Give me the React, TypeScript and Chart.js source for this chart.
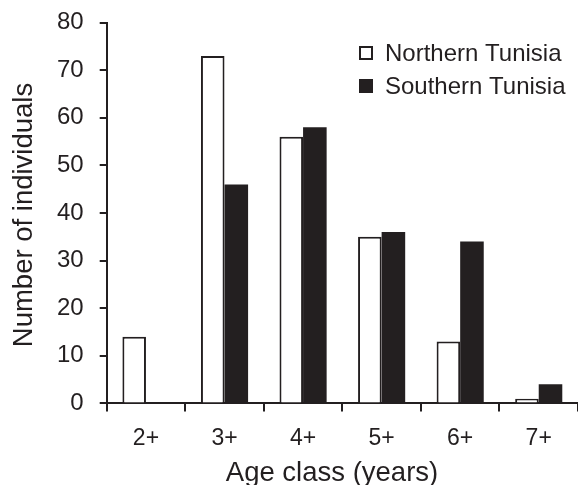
import React, { useEffect, useRef } from "react";
import { Chart, registerables } from "chart.js";

Chart.register(...registerables);

const categories = ["2+", "3+", "4+", "5+", "6+", "7+"];
const northern = [14, 73, 56, 35, 13, 1];
const southern = [0, 46, 58, 36, 34, 4];
const seriesLabels = ["Northern Tunisia", "Southern Tunisia"];
const yTitle = "Number of individuals";
const xTitle = "Age class (years)";

const INK = "#231f20";
const FONT = "'Liberation Sans', Arial, sans-serif";

const decorPlugin = {
  id: "decor",
  afterDraw(chart: any) {
    const ctx = chart.ctx;
    const x0 = 359;
    const ys = [53, 86];
    ctx.save();
    // legend
    ctx.font = `24px ${FONT}`;
    ctx.textBaseline = "middle";
    ctx.textAlign = "left";
    chart.data.datasets.forEach((ds: any, i: number) => {
      const y = ys[i];
      ctx.fillStyle = ds.backgroundColor;
      ctx.fillRect(x0, y - 7, 14, 14);
      ctx.strokeStyle = INK;
      ctx.lineWidth = 2;
      ctx.strokeRect(x0 + 1, y - 6, 12, 12);
      ctx.fillStyle = INK;
      ctx.fillText(ds.label, x0 + 26, y + 1);
    });
    // axis titles
    ctx.font = `27.5px ${FONT}`;
    ctx.textBaseline = "alphabetic";
    ctx.textAlign = "center";
    ctx.fillStyle = INK;
    ctx.fillText(xTitle, 332, 481);
    ctx.translate(32, 215);
    ctx.rotate(-Math.PI / 2);
    ctx.fillText(yTitle, 0, 0);
    ctx.restore();
  },
};

export default function App() {
  const ref = useRef<HTMLCanvasElement>(null);
  useEffect(() => {
    document.body.style.margin = "0";
    const chart = new Chart(ref.current!, {
      type: "bar",
      data: {
        labels: categories,
        datasets: [
          {
            label: seriesLabels[0],
            data: northern,
            backgroundColor: "#ffffff",
            borderColor: INK,
            borderWidth: 2,
            borderSkipped: "bottom",
          },
          {
            label: seriesLabels[1],
            data: southern,
            backgroundColor: INK,
            borderColor: INK,
            borderWidth: 0,
          },
        ],
      },
      options: {
        animation: false,
        responsive: false,
        layout: { padding: { top: 4, right: 0, left: 41, bottom: 20 } },
        plugins: { legend: { display: false }, tooltip: { enabled: false } },
        datasets: { bar: { categoryPercentage: 0.6, barPercentage: 1 } },
        scales: {
          x: {
            grid: {
              offset: true,
              drawOnChartArea: false,
              drawTicks: true,
              tickLength: 8,
              color: INK,
              lineWidth: 2,
            },
            border: { color: INK, width: 2 },
            ticks: { color: INK, font: { family: FONT, size: 23 }, padding: 13 },
          },
          y: {
            min: 0,
            max: 80,
            ticks: {
              stepSize: 10,
              color: INK,
              font: { family: FONT, size: 24, lineHeight: 0.55 },
              padding: 16,
            },
            grid: {
              drawOnChartArea: false,
              drawTicks: true,
              tickLength: 7,
              color: INK,
              lineWidth: 2,
            },
            border: { color: INK, width: 2 },
          },
        },
      },
      plugins: [decorPlugin],
    });
    return () => chart.destroy();
  }, []);
  return <canvas ref={ref} width={578} height={485} style={{ display: "block" }} />;
}
